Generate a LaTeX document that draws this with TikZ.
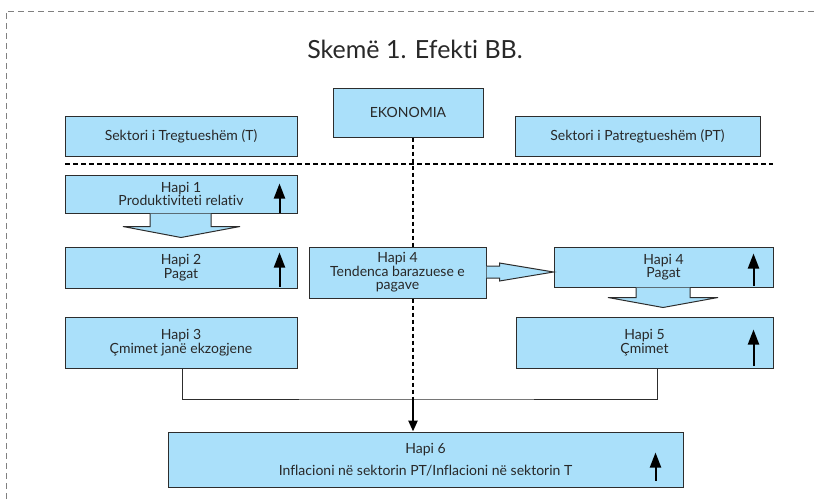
\documentclass[tikz,border=0pt]{standalone}
\usepackage{fontspec}
\setmainfont{Lato}[Ligatures=NoCommon]
\usetikzlibrary{arrows.meta,calc}
\definecolor{boxfill}{RGB}{170,224,250}
\definecolor{boxline}{RGB}{45,45,45}
\definecolor{txt}{RGB}{40,40,40}
\begin{document}
\begin{tikzpicture}[x=1pt,y=-1pt,
  box/.style={draw=boxline, fill=boxfill, line width=1pt, inner sep=0pt, align=center,
    font=\fontsize{14}{13.5}\selectfont, text=txt},
  uparrow/.style={line width=2pt, black, -{Triangle[length=15pt,width=11pt]}},
  blockarrow/.style={draw=boxline, line width=1pt, line join=miter},
  conn/.style={draw=boxline, line width=1pt},
  divider/.style={black, line width=1.6pt, dash pattern=on 5pt off 3pt},
  frame/.style={gray, line width=0.8pt, dash pattern=on 6pt off 4pt}
]
\useasboundingbox (0,0) rectangle (816,499);

% outer frame
\coordinate (fbl) at (6,499);
\coordinate (ftl) at (6,11);
\coordinate (ftr) at (816,11);
\draw[frame] (fbl) -- (ftl) -- (ftr);

% title
\node[font=\fontsize{25}{28}\selectfont, text=txt] (title) at (415,49) {Skemë 1. Efekti BB.};

% header boxes
\node[box, minimum width=150pt, minimum height=49pt] (eko) at (408,112.5) {EKONOMIA};
\node[box, minimum width=232pt, minimum height=40pt] (secT) at (181,136) {Sektori i Tregtueshëm (T)};
\node[box, minimum width=245pt, minimum height=40pt] (secPT) at (637.5,136) {Sektori i Patregtueshëm (PT)};

% divider
\coordinate (dl) at (65,164);
\coordinate (dr) at (773,164);
\draw[divider] (dl) -- (dr);

% vertical dashed line and junction
\coordinate (vtop) at ($(eko.south)+(5,0)$);
\coordinate (junc) at (413,399);
\draw[divider, line width=1.8pt, dash pattern=on 4pt off 3pt] (vtop) -- (junc);

% step boxes
\node[box, minimum width=232pt, minimum height=38pt] (h1) at (181,194) {Hapi 1\\Produktiviteti relativ};
\node[box, minimum width=232pt, minimum height=41pt] (h2) at (181,267.5) {Hapi 2\\Pagat};
\node[box, minimum width=232pt, minimum height=51pt] (h3) at (181,342.5) {Hapi 3\\Çmimet janë ekzogjene};
\node[box, minimum width=177pt, minimum height=51pt] (h4m) at (397.5,272.5) {Hapi 4\\Tendenca barazuese e\\pagave};
\node[box, minimum width=219pt, minimum height=40pt] (h4r) at (663.5,267) {Hapi 4\\Pagat};
\node[box, minimum width=257pt, minimum height=51pt] (h5) at (644.5,342.5) {Hapi 5\\Çmimet};
\node[box, minimum width=515pt, minimum height=55pt] (h6) at (425.5,459.5) {Hapi 6\\[9pt]Inflacioni në sektorin PT/Inflacioni në sektorin T};

% block arrow h1 -> h2
\fill[boxfill] ($(h1.south)+(-31,0)$) -- ++(0,13) -- ++(-27,0) -- ($(h1.south)+(0,24)$)
  -- ($(h1.south)+(59,13)$) -- ($(h1.south)+(30,13)$) -- ($(h1.south)+(30,0)$) -- cycle;
\draw[blockarrow] ($(h1.south)+(-31,0)$) -- ++(0,13) -- ++(-27,0) -- ($(h1.south)+(0,24)$)
  -- ($(h1.south)+(59,13)$) -- ($(h1.south)+(30,13)$) -- ($(h1.south)+(30,0)$);

% block arrow h4m -> h4r
\coordinate (ra) at ($(h4m.east)+(0,-0.5)$);
\coordinate (rtip) at ($(h4r.west)+(0,5)$);
\fill[boxfill] ($(ra)+(0,-6)$) -- ++(13,0) -- ++(0,-3) -- (rtip) -- ($(ra)+(13,9)$) -- ($(ra)+(13,6)$) -- ($(ra)+(0,6)$) -- cycle;
\draw[blockarrow] ($(ra)+(0,-6)$) -- ++(13,0) -- ++(0,-3) -- (rtip) -- ($(ra)+(13,9)$) -- ($(ra)+(13,6)$) -- ($(ra)+(0,6)$);

% block arrow h4r -> h5
\coordinate (da) at ($(h4r.south)+(-0.5,0)$);
\fill[boxfill] ($(da)+(-27,0)$) -- ++(0,10) -- ++(-28,0) -- ($(da)+(0,20)$) -- ($(da)+(55,10)$) -- ($(da)+(27,10)$) -- ($(da)+(27,0)$) -- cycle;
\draw[blockarrow] ($(da)+(-27,0)$) -- ++(0,10) -- ++(-28,0) -- ($(da)+(0,20)$) -- ($(da)+(55,10)$) -- ($(da)+(27,10)$) -- ($(da)+(27,0)$);

% connectors to Hapi 6
\coordinate (c5) at ($(h5.south)+(12.5,0)$);
\draw[conn] ($(h3.south)+(1,0)$) |- (junc) -| (c5);
\draw[line width=2.4pt, black, -{Triangle[length=11pt,width=9pt]}] (junc) -- (junc |- h6.north);

% up arrows in boxes
\draw[uparrow] ($(h1.south east)+(-18,-1)$) -- ++(0,-29);
\draw[uparrow] ($(h2.south east)+(-18,-2)$) -- ++(0,-34);
\draw[uparrow] ($(h4r.south east)+(-20,-2)$) -- ++(0,-32);
\draw[uparrow] ($(h5.south east)+(-20,-3)$) -- ++(0,-36);
\draw[uparrow] ($(h6.south east)+(-28,-7)$) -- ++(0,-28);
\end{tikzpicture}
\end{document}
